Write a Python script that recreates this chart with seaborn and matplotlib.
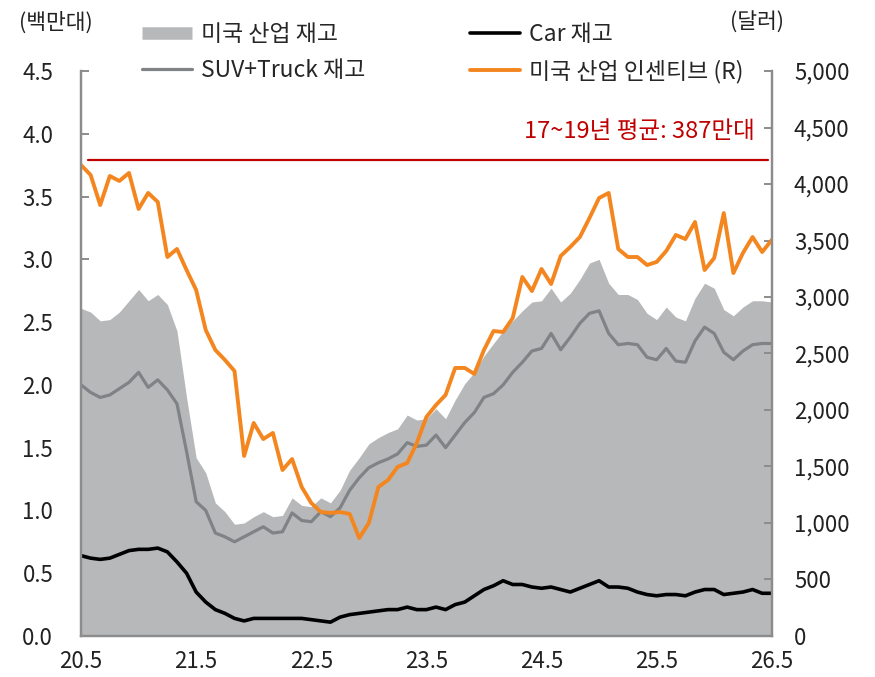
import numpy as np
import pandas as pd
import matplotlib
matplotlib.use("Agg")
import matplotlib.pyplot as plt
import seaborn as sns
from matplotlib.ticker import FuncFormatter

# 월별 데이터 (20.5 ~ 26.5), 단위: 백만대 / 달러
total_inv = [2.61, 2.58, 2.51, 2.52, 2.58, 2.67, 2.76, 2.67, 2.72, 2.64,
             2.43, 1.90, 1.42, 1.30, 1.06, 0.99, 0.89, 0.90, 0.95, 0.99,
             0.95, 0.96, 1.10, 1.04, 1.03, 1.10, 1.06, 1.16, 1.32, 1.42,
             1.53, 1.58, 1.62, 1.65, 1.76, 1.72, 1.73, 1.81, 1.73, 1.88,
             2.01, 2.10, 2.23, 2.33, 2.43, 2.51, 2.59, 2.66, 2.67, 2.77,
             2.66, 2.73, 2.84, 2.97, 3.00, 2.81, 2.72, 2.72, 2.68, 2.57,
             2.52, 2.62, 2.54, 2.51, 2.69, 2.81, 2.77, 2.60, 2.55, 2.62,
             2.67, 2.67, 2.66]
suv_truck_inv = [2.00, 1.94, 1.90, 1.92, 1.97, 2.02, 2.10, 1.98, 2.04, 1.96,
                 1.85, 1.47, 1.07, 1.00, 0.82, 0.79, 0.75, 0.79, 0.83, 0.87,
                 0.82, 0.83, 0.98, 0.92, 0.91, 0.99, 0.95, 1.02, 1.16, 1.26,
                 1.34, 1.38, 1.41, 1.45, 1.54, 1.51, 1.52, 1.60, 1.50, 1.60,
                 1.70, 1.78, 1.90, 1.93, 2.00, 2.10, 2.18, 2.27, 2.29, 2.41,
                 2.28, 2.38, 2.49, 2.57, 2.59, 2.41, 2.32, 2.33, 2.32, 2.22,
                 2.20, 2.29, 2.19, 2.18, 2.35, 2.46, 2.41, 2.26, 2.20, 2.27,
                 2.32, 2.33, 2.33]
car_inv = [0.64, 0.62, 0.61, 0.62, 0.65, 0.68, 0.69, 0.69, 0.70, 0.67,
           0.59, 0.50, 0.35, 0.27, 0.21, 0.18, 0.14, 0.12, 0.14, 0.14,
           0.14, 0.14, 0.14, 0.14, 0.13, 0.12, 0.11, 0.15, 0.17, 0.18,
           0.19, 0.20, 0.21, 0.21, 0.23, 0.21, 0.21, 0.23, 0.21, 0.25,
           0.27, 0.32, 0.37, 0.40, 0.44, 0.41, 0.41, 0.39, 0.38, 0.39,
           0.37, 0.35, 0.38, 0.41, 0.44, 0.39, 0.39, 0.38, 0.35, 0.33,
           0.32, 0.33, 0.33, 0.32, 0.35, 0.37, 0.37, 0.33, 0.34, 0.35,
           0.37, 0.34, 0.34]
incentive = [4168, 4080, 3814, 4071, 4027, 4098, 3779, 3921, 3841, 3354,
             3425, 3239, 3062, 2708, 2531, 2443, 2345, 1593, 1885, 1743,
             1797, 1469, 1566, 1319, 1177, 1097, 1089, 1097, 1080, 867,
             1000, 1319, 1380, 1496, 1531, 1708, 1938, 2044, 2133, 2372,
             2372, 2319, 2531, 2699, 2690, 2814, 3177, 3053, 3248, 3115,
             3363, 3443, 3531, 3699, 3876, 3921, 3425, 3354, 3354, 3283,
             3310, 3407, 3549, 3513, 3664, 3239, 3345, 3743, 3212, 3390,
             3531, 3398, 3505]
avg_level = 3.79  # 17~19년 평균선 (그림상 위치)
xtick_labels = ["20.5", "21.5", "22.5", "23.5", "24.5", "25.5", "26.5"]

df = pd.DataFrame({
    "month": np.arange(len(total_inv)),
    "total": total_inv,
    "suv": suv_truck_inv,
    "car": car_inv,
    "incentive": incentive,
})

sns.set_style("white")
plt.rcParams["font.family"] = ["Noto Sans CJK KR", "DejaVu Sans"]

c_area = "#B7B8BA"
c_suv = "#808386"
c_orange = "#F4861F"
c_red = "#C00000"
c_spine = "#8C8C8C"
c_text = "#222222"

fig = plt.figure(figsize=(8.75, 6.77), dpi=100)
ax = fig.add_axes([0.0926, 0.0606, 0.7894, 0.8345])
ax2 = ax.twinx()

ax.fill_between(df["month"], df["total"], color=c_area, lw=0)
sns.lineplot(data=df, x="month", y="suv", ax=ax, color=c_suv, lw=2.3, label="SUV+Truck 재고")
sns.lineplot(data=df, x="month", y="car", ax=ax, color="black", lw=2.6, label="Car 재고")
ax.axhline(avg_level, xmin=0.01, xmax=0.995, color=c_red, lw=1.6)
sns.lineplot(data=df, x="month", y="incentive", ax=ax2, color=c_orange, lw=2.8,
             label="미국 산업 인센티브 (R)")

ax.set_xlim(0, len(total_inv) - 1)
ax.set_ylim(0, 4.5)
ax2.set_ylim(0, 5000)
ax.set_xticks(np.arange(0, len(total_inv), 12))
ax.set_xticklabels(xtick_labels)
ax.set_yticks(np.arange(0, 4.51, 0.5))
ax.yaxis.set_major_formatter(FuncFormatter(lambda v, p: f"{v:.1f}"))
ax2.set_yticks(np.arange(0, 5001, 500))
ax2.yaxis.set_major_formatter(FuncFormatter(lambda v, p: f"{int(v):,}"))
for a in (ax, ax2):
    a.set_xlabel("")
    a.set_ylabel("")
    a.spines["top"].set_visible(False)
    for s in ("left", "right", "bottom"):
        a.spines[s].set_color(c_spine)
        a.spines[s].set_linewidth(1.6)
    a.tick_params(direction="in", length=6, width=1.4, color=c_spine,
                  labelsize=16, labelcolor=c_text)
ax.tick_params(axis="x", pad=10)
ax.tick_params(axis="y", pad=20)
ax2.tick_params(axis="y", pad=16)

# 범례
h1, l1 = ax.get_legend_handles_labels()
h2, l2 = ax2.get_legend_handles_labels()
for lg in (ax.get_legend(), ax2.get_legend()):
    if lg is not None:
        lg.remove()
area_h = plt.Line2D([], [], color=c_area, lw=9, solid_capstyle="butt")
handles = [area_h, h1[0], h1[1], h2[0]]
labels = ["미국 산업 재고", "SUV+Truck 재고", "Car 재고", "미국 산업 인센티브 (R)"]
fig.legend(handles, labels, ncol=2, loc="upper left", bbox_to_anchor=(0.139, 0.997),
           frameon=False, fontsize=16.5, handlelength=2.15, handletextpad=0.4,
           columnspacing=4.6, labelspacing=0.6)

fig.text(0.022, 0.966, "(백만대)", fontsize=15.5, va="center", ha="left", color=c_text)
fig.text(0.865, 0.966, "(달러)", fontsize=15.5, va="center", ha="center", color=c_text)
ax.text(0.975, 0.873, "17~19년 평균: 387만대", transform=ax.transAxes,
        ha="right", va="bottom", fontsize=17, color=c_red)

fig.savefig("out.png", dpi=100)
